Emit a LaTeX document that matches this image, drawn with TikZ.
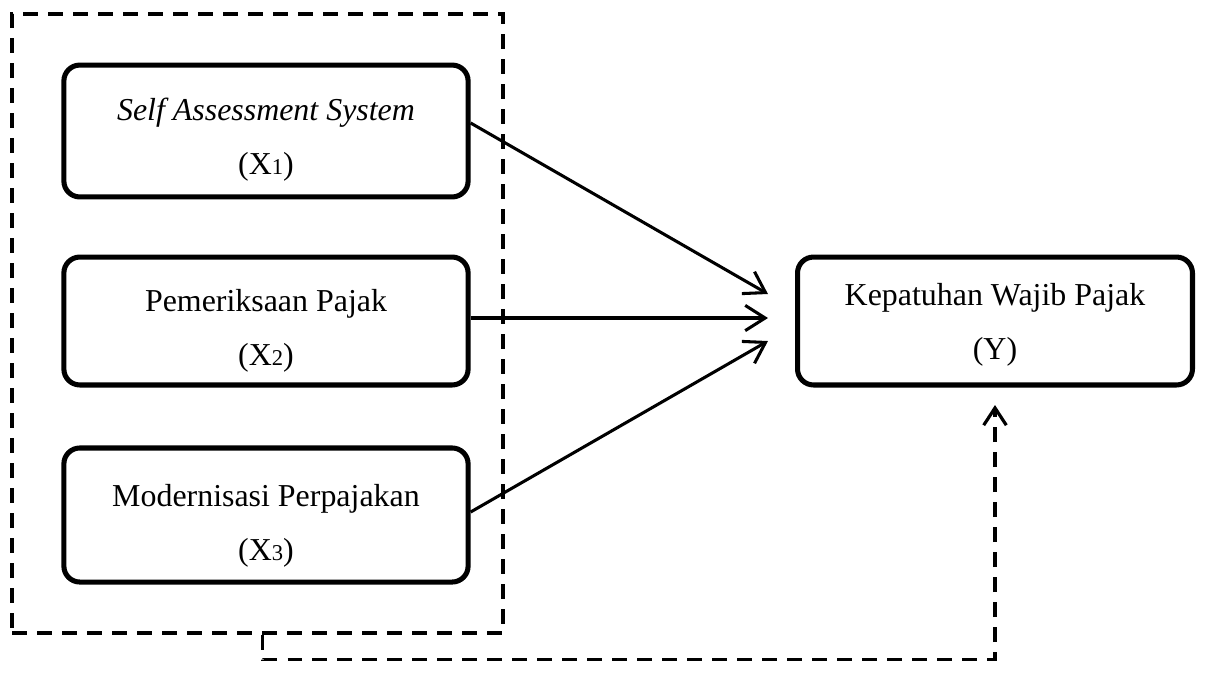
\documentclass[tikz,border=0pt]{standalone}
\usepackage{fontspec}
\setmainfont{Liberation Serif}
\usetikzlibrary{arrows.meta,calc}
\newcommand{\sbs}[1]{{\fontsize{8.5}{8.5}\selectfont #1}}
\tikzset{
  varbox/.style={draw, line width=1.9pt, rounded corners=6pt,
    minimum width=152pt, minimum height=49pt, inner sep=0pt},
  vtext/.style={align=center, inner sep=0pt,
    font=\fontsize{12}{20.2}\selectfont},
  grpbox/.style={draw, line width=1.3pt, dash pattern=on 5.6pt off 3.8pt,
    minimum width=184.6pt, minimum height=232.7pt, inner sep=0pt},
  arr/.style={line width=1.15pt, -{Straight Barb[length=7.5pt,width=9.5pt,line width=1.15pt]}},
  fbline/.style={line width=1.3pt, dash pattern=on 5.6pt off 3.8pt,
    -{Straight Barb[length=6.5pt,width=8.5pt,line width=1.2pt]}}
}
\begin{document}
\begin{tikzpicture}[x=0.376pt,y=-0.376pt]
\useasboundingbox (0,0) rectangle (1205,690);
\node[grpbox] (grp) at (257.5,323.5) {};
\node[varbox, minimum height=49.6pt] (b1) at (266,131) {};
\node[varbox, minimum height=48.1pt] (b2) at (266,321) {};
\node[varbox, minimum height=50.4pt] (b3) at (266,515) {};
\node[varbox, minimum width=148.5pt, minimum height=48.1pt] (y) at (995,321) {};
\node[vtext] (b1t) at ($(b1.center)+(0,8.5)$) {\textit{Self Assessment System}\\(X\sbs{1})};
\node[vtext] (b2t) at ($(b2.center)+(0,9.5)$) {Pemeriksaan Pajak\\(X\sbs{2})};
\node[vtext] (b3t) at ($(b3.center)+(0,10.5)$) {Modernisasi Perpajakan\\(X\sbs{3})};
\node[vtext] (yt) at ($(y.center)+(0,4)$) {Kepatuhan Wajib Pajak\\(Y)};
\coordinate (t1) at (768,294);
\coordinate (t2) at (768,318);
\coordinate (t3) at (768,341);
\coordinate (fb) at (995,405);
\draw[arr] ($(b1.east)+(0,-8)$) -- (t1);
\draw[arr] ($(b2.east)+(0,-3)$) -- (t2);
\draw[arr] ($(b3.east)+(0,-3)$) -- (t3);
\draw[fbline] ($(grp.south)+(5,0)$) -- ++(0,25) -| (fb);
\end{tikzpicture}
\end{document}
